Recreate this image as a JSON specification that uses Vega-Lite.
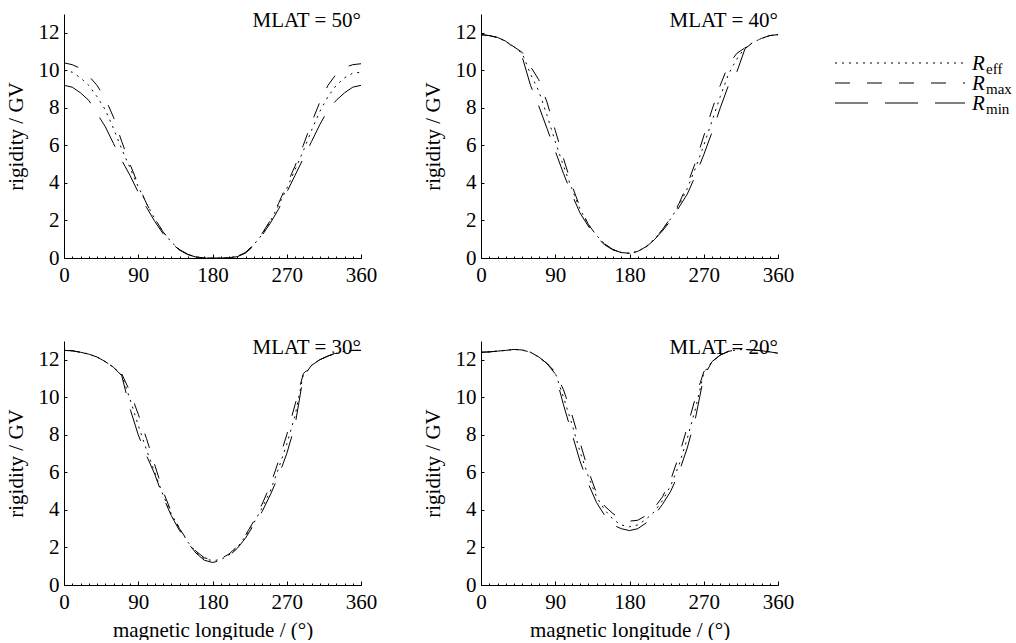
{
  "$schema": "https://vega.github.io/schema/vega-lite/v6.json",
  "padding": {"left": 5, "top": 10, "right": 0, "bottom": 0},
  "background": "white",
  "config": {
    "font": "Liberation Serif",
    "view": {"stroke": null},
    "axis": {
      "grid": false,
      "domainColor": "black",
      "domainWidth": 1,
      "tickColor": "black",
      "tickWidth": 1,
      "labelColor": "black",
      "titleColor": "black",
      "labelFont": "Liberation Serif",
      "titleFont": "Liberation Serif",
      "labelFontSize": 21,
      "titleFontSize": 21,
      "titleFontWeight": "normal",
      "labelOverlap": false,
      "labelFlush": false,
      "labelBound": false
    },
    "text": {"font": "Liberation Serif", "color": "black"}
  },
  "datasets": {
    "rig": [
      {"mlat":50,"lon":0,"eff":10.0,"max":10.4,"min":9.2},
      {"mlat":50,"lon":10,"eff":9.9,"max":10.3,"min":9.1},
      {"mlat":50,"lon":20,"eff":9.6,"max":10.1,"min":8.8},
      {"mlat":50,"lon":30,"eff":9.2,"max":9.7,"min":8.4},
      {"mlat":50,"lon":40,"eff":8.6,"max":9.2,"min":7.7},
      {"mlat":50,"lon":50,"eff":7.9,"max":8.5,"min":7.0},
      {"mlat":50,"lon":60,"eff":6.9,"max":7.5,"min":6.1},
      {"mlat":50,"lon":70,"eff":5.8,"max":6.2,"min":5.2},
      {"mlat":50,"lon":80,"eff":4.8,"max":5.0,"min":4.4},
      {"mlat":50,"lon":90,"eff":3.8,"max":3.9,"min":3.5},
      {"mlat":50,"lon":100,"eff":2.9,"max":2.9,"min":2.7},
      {"mlat":50,"lon":110,"eff":2.1,"max":2.1,"min":1.95},
      {"mlat":50,"lon":120,"eff":1.4,"max":1.4,"min":1.3},
      {"mlat":50,"lon":130,"eff":0.85,"max":0.85,"min":0.8},
      {"mlat":50,"lon":140,"eff":0.45,"max":0.45,"min":0.42},
      {"mlat":50,"lon":150,"eff":0.2,"max":0.2,"min":0.18},
      {"mlat":50,"lon":160,"eff":0.06,"max":0.06,"min":0.05},
      {"mlat":50,"lon":170,"eff":0.01,"max":0.01,"min":0.01},
      {"mlat":50,"lon":180,"eff":0,"max":0,"min":0},
      {"mlat":50,"lon":190,"eff":0,"max":0,"min":0},
      {"mlat":50,"lon":200,"eff":0.02,"max":0.02,"min":0.02},
      {"mlat":50,"lon":210,"eff":0.08,"max":0.08,"min":0.07},
      {"mlat":50,"lon":220,"eff":0.3,"max":0.3,"min":0.26},
      {"mlat":50,"lon":230,"eff":0.7,"max":0.72,"min":0.65},
      {"mlat":50,"lon":240,"eff":1.25,"max":1.3,"min":1.2},
      {"mlat":50,"lon":250,"eff":1.95,"max":2.0,"min":1.85},
      {"mlat":50,"lon":260,"eff":2.8,"max":2.9,"min":2.6},
      {"mlat":50,"lon":270,"eff":3.7,"max":3.9,"min":3.5},
      {"mlat":50,"lon":280,"eff":4.7,"max":4.9,"min":4.4},
      {"mlat":50,"lon":290,"eff":5.7,"max":6.0,"min":5.3},
      {"mlat":50,"lon":300,"eff":6.8,"max":7.2,"min":6.2},
      {"mlat":50,"lon":310,"eff":7.8,"max":8.3,"min":7.1},
      {"mlat":50,"lon":320,"eff":8.6,"max":9.2,"min":7.9},
      {"mlat":50,"lon":330,"eff":9.2,"max":9.8,"min":8.4},
      {"mlat":50,"lon":340,"eff":9.6,"max":10.15,"min":8.8},
      {"mlat":50,"lon":350,"eff":9.85,"max":10.3,"min":9.1},
      {"mlat":50,"lon":360,"eff":9.9,"max":10.35,"min":9.2},

      {"mlat":40,"lon":0,"eff":11.9,"max":11.9,"min":11.9},
      {"mlat":40,"lon":10,"eff":11.85,"max":11.85,"min":11.85},
      {"mlat":40,"lon":20,"eff":11.75,"max":11.75,"min":11.75},
      {"mlat":40,"lon":30,"eff":11.55,"max":11.55,"min":11.55},
      {"mlat":40,"lon":40,"eff":11.25,"max":11.25,"min":11.2},
      {"mlat":40,"lon":50,"eff":10.9,"max":10.95,"min":10.7},
      {"mlat":40,"lon":60,"eff":9.8,"max":10.2,"min":9.2},
      {"mlat":40,"lon":70,"eff":8.9,"max":9.5,"min":8.1},
      {"mlat":40,"lon":80,"eff":7.6,"max":8.3,"min":6.9},
      {"mlat":40,"lon":90,"eff":6.2,"max":6.8,"min":5.7},
      {"mlat":40,"lon":100,"eff":4.9,"max":5.3,"min":4.5},
      {"mlat":40,"lon":110,"eff":3.7,"max":3.9,"min":3.4},
      {"mlat":40,"lon":120,"eff":2.6,"max":2.7,"min":2.4},
      {"mlat":40,"lon":130,"eff":1.8,"max":1.8,"min":1.7},
      {"mlat":40,"lon":140,"eff":1.2,"max":1.2,"min":1.1},
      {"mlat":40,"lon":150,"eff":0.75,"max":0.75,"min":0.7},
      {"mlat":40,"lon":160,"eff":0.45,"max":0.45,"min":0.43},
      {"mlat":40,"lon":170,"eff":0.3,"max":0.3,"min":0.29},
      {"mlat":40,"lon":180,"eff":0.25,"max":0.25,"min":0.25},
      {"mlat":40,"lon":190,"eff":0.35,"max":0.35,"min":0.34},
      {"mlat":40,"lon":200,"eff":0.6,"max":0.6,"min":0.58},
      {"mlat":40,"lon":210,"eff":1.0,"max":1.0,"min":0.97},
      {"mlat":40,"lon":220,"eff":1.5,"max":1.52,"min":1.45},
      {"mlat":40,"lon":230,"eff":2.1,"max":2.15,"min":2.0},
      {"mlat":40,"lon":240,"eff":2.8,"max":2.9,"min":2.7},
      {"mlat":40,"lon":250,"eff":3.7,"max":3.9,"min":3.4},
      {"mlat":40,"lon":260,"eff":4.8,"max":5.1,"min":4.4},
      {"mlat":40,"lon":270,"eff":6.0,"max":6.5,"min":5.5},
      {"mlat":40,"lon":280,"eff":7.3,"max":7.9,"min":6.7},
      {"mlat":40,"lon":290,"eff":8.6,"max":9.2,"min":8.0},
      {"mlat":40,"lon":300,"eff":9.8,"max":10.3,"min":9.2},
      {"mlat":40,"lon":310,"eff":10.6,"max":10.9,"min":9.9},
      {"mlat":40,"lon":320,"eff":11.2,"max":11.2,"min":11.15},
      {"mlat":40,"lon":330,"eff":11.5,"max":11.5,"min":11.5},
      {"mlat":40,"lon":340,"eff":11.7,"max":11.7,"min":11.7},
      {"mlat":40,"lon":350,"eff":11.85,"max":11.85,"min":11.85},
      {"mlat":40,"lon":360,"eff":11.9,"max":11.9,"min":11.9},

      {"mlat":30,"lon":0,"eff":12.5,"max":12.5,"min":12.5},
      {"mlat":30,"lon":10,"eff":12.48,"max":12.48,"min":12.48},
      {"mlat":30,"lon":20,"eff":12.4,"max":12.4,"min":12.4},
      {"mlat":30,"lon":30,"eff":12.3,"max":12.3,"min":12.3},
      {"mlat":30,"lon":40,"eff":12.15,"max":12.15,"min":12.15},
      {"mlat":30,"lon":50,"eff":11.9,"max":11.9,"min":11.9},
      {"mlat":30,"lon":60,"eff":11.6,"max":11.6,"min":11.6},
      {"mlat":30,"lon":70,"eff":11.2,"max":11.25,"min":11.15},
      {"mlat":30,"lon":80,"eff":9.9,"max":10.3,"min":9.4},
      {"mlat":30,"lon":90,"eff":8.5,"max":9.1,"min":8.0},
      {"mlat":30,"lon":100,"eff":7.2,"max":7.8,"min":6.9},
      {"mlat":30,"lon":110,"eff":6.0,"max":6.4,"min":5.9},
      {"mlat":30,"lon":120,"eff":4.8,"max":5.0,"min":4.7},
      {"mlat":30,"lon":130,"eff":3.8,"max":3.9,"min":3.7},
      {"mlat":30,"lon":140,"eff":3.0,"max":3.0,"min":2.9},
      {"mlat":30,"lon":150,"eff":2.3,"max":2.35,"min":2.25},
      {"mlat":30,"lon":160,"eff":1.75,"max":1.8,"min":1.7},
      {"mlat":30,"lon":170,"eff":1.4,"max":1.45,"min":1.32},
      {"mlat":30,"lon":180,"eff":1.3,"max":1.35,"min":1.2},
      {"mlat":30,"lon":190,"eff":1.35,"max":1.4,"min":1.3},
      {"mlat":30,"lon":200,"eff":1.6,"max":1.65,"min":1.55},
      {"mlat":30,"lon":210,"eff":2.0,"max":2.05,"min":1.95},
      {"mlat":30,"lon":220,"eff":2.6,"max":2.65,"min":2.5},
      {"mlat":30,"lon":230,"eff":3.3,"max":3.4,"min":3.2},
      {"mlat":30,"lon":240,"eff":4.1,"max":4.3,"min":3.9},
      {"mlat":30,"lon":250,"eff":5.0,"max":5.3,"min":4.8},
      {"mlat":30,"lon":260,"eff":6.2,"max":6.6,"min":5.8},
      {"mlat":30,"lon":270,"eff":7.5,"max":8.0,"min":7.0},
      {"mlat":30,"lon":280,"eff":9.0,"max":9.6,"min":8.5},
      {"mlat":30,"lon":290,"eff":11.2,"max":11.25,"min":11.1},
      {"mlat":30,"lon":300,"eff":11.7,"max":11.7,"min":11.7},
      {"mlat":30,"lon":310,"eff":12.0,"max":12.0,"min":12.0},
      {"mlat":30,"lon":320,"eff":12.2,"max":12.2,"min":12.2},
      {"mlat":30,"lon":330,"eff":12.35,"max":12.35,"min":12.35},
      {"mlat":30,"lon":340,"eff":12.45,"max":12.45,"min":12.45},
      {"mlat":30,"lon":350,"eff":12.5,"max":12.5,"min":12.5},
      {"mlat":30,"lon":360,"eff":12.5,"max":12.5,"min":12.5},

      {"mlat":20,"lon":0,"eff":12.4,"max":12.4,"min":12.4},
      {"mlat":20,"lon":10,"eff":12.42,"max":12.42,"min":12.42},
      {"mlat":20,"lon":20,"eff":12.46,"max":12.46,"min":12.46},
      {"mlat":20,"lon":30,"eff":12.5,"max":12.5,"min":12.5},
      {"mlat":20,"lon":40,"eff":12.55,"max":12.55,"min":12.55},
      {"mlat":20,"lon":50,"eff":12.52,"max":12.52,"min":12.52},
      {"mlat":20,"lon":60,"eff":12.4,"max":12.4,"min":12.4},
      {"mlat":20,"lon":70,"eff":12.15,"max":12.15,"min":12.15},
      {"mlat":20,"lon":80,"eff":11.8,"max":11.8,"min":11.8},
      {"mlat":20,"lon":90,"eff":11.3,"max":11.35,"min":11.25},
      {"mlat":20,"lon":100,"eff":10.0,"max":10.4,"min":9.6},
      {"mlat":20,"lon":110,"eff":8.6,"max":9.1,"min":8.1},
      {"mlat":20,"lon":120,"eff":7.1,"max":7.6,"min":6.6},
      {"mlat":20,"lon":130,"eff":5.8,"max":6.1,"min":5.4},
      {"mlat":20,"lon":140,"eff":4.7,"max":4.9,"min":4.4},
      {"mlat":20,"lon":150,"eff":4.0,"max":4.2,"min":3.7},
      {"mlat":20,"lon":160,"eff":3.5,"max":3.8,"min":3.2},
      {"mlat":20,"lon":170,"eff":3.2,"max":3.5,"min":3.0},
      {"mlat":20,"lon":180,"eff":3.1,"max":3.4,"min":2.9},
      {"mlat":20,"lon":190,"eff":3.2,"max":3.45,"min":3.0},
      {"mlat":20,"lon":200,"eff":3.5,"max":3.7,"min":3.3},
      {"mlat":20,"lon":210,"eff":3.9,"max":4.1,"min":3.7},
      {"mlat":20,"lon":220,"eff":4.5,"max":4.7,"min":4.3},
      {"mlat":20,"lon":230,"eff":5.3,"max":5.6,"min":5.0},
      {"mlat":20,"lon":240,"eff":6.4,"max":6.9,"min":6.0},
      {"mlat":20,"lon":250,"eff":7.8,"max":8.4,"min":7.3},
      {"mlat":20,"lon":260,"eff":9.4,"max":10.0,"min":8.9},
      {"mlat":20,"lon":270,"eff":11.3,"max":11.35,"min":11.1},
      {"mlat":20,"lon":280,"eff":11.9,"max":11.9,"min":11.9},
      {"mlat":20,"lon":290,"eff":12.25,"max":12.25,"min":12.25},
      {"mlat":20,"lon":300,"eff":12.45,"max":12.45,"min":12.45},
      {"mlat":20,"lon":310,"eff":12.53,"max":12.53,"min":12.53},
      {"mlat":20,"lon":320,"eff":12.55,"max":12.55,"min":12.55},
      {"mlat":20,"lon":330,"eff":12.52,"max":12.52,"min":12.52},
      {"mlat":20,"lon":340,"eff":12.48,"max":12.48,"min":12.48},
      {"mlat":20,"lon":350,"eff":12.42,"max":12.42,"min":12.42},
      {"mlat":20,"lon":360,"eff":12.35,"max":12.35,"min":12.35}
    ]
  },
  "hconcat": [
    {
      "vconcat": [
        {
          "hconcat": [
            {
              "width": 297, "height": 244,
              "resolve": {"axis": {"x": "independent"}},
              "layer": [
                {
                  "data": {"name": "rig"},
                  "transform": [{"filter": "datum.mlat == 50"}, {"fold": ["eff", "max", "min"], "as": ["series", "R"]}],
                  "mark": {"type": "line", "color": "black", "strokeWidth": 1},
                  "encoding": {
                    "x": {"field": "lon", "type": "quantitative", "scale": {"domain": [0, 360], "nice": false, "zero": false},
                      "axis": {"values": [0,10,20,30,40,50,60,70,80,90,100,110,120,130,140,150,160,170,180,190,200,210,220,230,240,250,260,270,280,290,300,310,320,330,340,350,360],
                        "labelExpr": "datum.value % 90 == 0 ? datum.label : ''",
                        "tickSize": -2, "labelPadding": 8, "title": null, "orient": "bottom"}},
                    "y": {"field": "R", "type": "quantitative", "scale": {"domain": [0, 13], "nice": false},
                      "axis": {"values": [0,1,2,3,4,5,6,7,8,9,10,11,12], "labelExpr": "datum.value % 2 == 0 ? datum.label : ''",
                        "tickSize": -3, "labelPadding": 8, "title": "rigidity / GV", "titlePadding": 12}},
                    "strokeDash": {"field": "series", "type": "nominal", "scale": {"domain": ["eff", "max", "min"], "range": [[2, 5], [15, 17], [33, 17]]}, "legend": null}
                  }
                },
                {
                  "data": {"values": [{"label": "MLAT = 50°"}]},
                  "mark": {"type": "text", "align": "right", "baseline": "alphabetic", "fontSize": 21, "dy": 13},
                  "encoding": {
                    "x": {"datum": 360, "type": "quantitative", "axis": {"values": [0, 90, 180, 270, 360], "tickSize": -4, "labels": false, "domain": false, "title": null, "orient": "bottom"}},
                    "y": {"datum": 13},
                    "text": {"field": "label"}
                  }
                }
              ]
            },
            {
              "width": 297, "height": 244,
              "resolve": {"axis": {"x": "independent"}},
              "layer": [
                {
                  "data": {"name": "rig"},
                  "transform": [{"filter": "datum.mlat == 40"}, {"fold": ["eff", "max", "min"], "as": ["series", "R"]}],
                  "mark": {"type": "line", "color": "black", "strokeWidth": 1},
                  "encoding": {
                    "x": {"field": "lon", "type": "quantitative", "scale": {"domain": [0, 360], "nice": false, "zero": false},
                      "axis": {"values": [0,10,20,30,40,50,60,70,80,90,100,110,120,130,140,150,160,170,180,190,200,210,220,230,240,250,260,270,280,290,300,310,320,330,340,350,360],
                        "labelExpr": "datum.value % 90 == 0 ? datum.label : ''",
                        "tickSize": -2, "labelPadding": 8, "title": null, "orient": "bottom"}},
                    "y": {"field": "R", "type": "quantitative", "scale": {"domain": [0, 13], "nice": false},
                      "axis": {"values": [0,1,2,3,4,5,6,7,8,9,10,11,12], "labelExpr": "datum.value % 2 == 0 ? datum.label : ''",
                        "tickSize": -3, "labelPadding": 8, "title": "rigidity / GV", "titlePadding": 12}},
                    "strokeDash": {"field": "series", "type": "nominal", "scale": {"domain": ["eff", "max", "min"], "range": [[2, 5], [15, 17], [33, 17]]}, "legend": null}
                  }
                },
                {
                  "data": {"values": [{"label": "MLAT = 40°"}]},
                  "mark": {"type": "text", "align": "right", "baseline": "alphabetic", "fontSize": 21, "dy": 13},
                  "encoding": {
                    "x": {"datum": 360, "type": "quantitative", "axis": {"values": [0, 90, 180, 270, 360], "tickSize": -4, "labels": false, "domain": false, "title": null, "orient": "bottom"}},
                    "y": {"datum": 13},
                    "text": {"field": "label"}
                  }
                }
              ]
            }
          ],
          "spacing": 45
        },
        {
          "hconcat": [
            {
              "width": 297, "height": 244,
              "resolve": {"axis": {"x": "independent"}},
              "layer": [
                {
                  "data": {"name": "rig"},
                  "transform": [{"filter": "datum.mlat == 30"}, {"fold": ["eff", "max", "min"], "as": ["series", "R"]}],
                  "mark": {"type": "line", "color": "black", "strokeWidth": 1},
                  "encoding": {
                    "x": {"field": "lon", "type": "quantitative", "scale": {"domain": [0, 360], "nice": false, "zero": false},
                      "axis": {"values": [0,10,20,30,40,50,60,70,80,90,100,110,120,130,140,150,160,170,180,190,200,210,220,230,240,250,260,270,280,290,300,310,320,330,340,350,360],
                        "labelExpr": "datum.value % 90 == 0 ? datum.label : ''",
                        "tickSize": -2, "labelPadding": 8, "title": "magnetic longitude / (°)", "titlePadding": 7, "orient": "bottom"}},
                    "y": {"field": "R", "type": "quantitative", "scale": {"domain": [0, 13], "nice": false},
                      "axis": {"values": [0,1,2,3,4,5,6,7,8,9,10,11,12], "labelExpr": "datum.value % 2 == 0 ? datum.label : ''",
                        "tickSize": -3, "labelPadding": 8, "title": "rigidity / GV", "titlePadding": 12}},
                    "strokeDash": {"field": "series", "type": "nominal", "scale": {"domain": ["eff", "max", "min"], "range": [[2, 5], [15, 17], [33, 17]]}, "legend": null}
                  }
                },
                {
                  "data": {"values": [{"label": "MLAT = 30°"}]},
                  "mark": {"type": "text", "align": "right", "baseline": "alphabetic", "fontSize": 21, "dy": 13},
                  "encoding": {
                    "x": {"datum": 360, "type": "quantitative", "axis": {"values": [0, 90, 180, 270, 360], "tickSize": -4, "labels": false, "domain": false, "title": null, "orient": "bottom"}},
                    "y": {"datum": 13},
                    "text": {"field": "label"}
                  }
                }
              ]
            },
            {
              "width": 297, "height": 244,
              "resolve": {"axis": {"x": "independent"}},
              "layer": [
                {
                  "data": {"name": "rig"},
                  "transform": [{"filter": "datum.mlat == 20"}, {"fold": ["eff", "max", "min"], "as": ["series", "R"]}],
                  "mark": {"type": "line", "color": "black", "strokeWidth": 1},
                  "encoding": {
                    "x": {"field": "lon", "type": "quantitative", "scale": {"domain": [0, 360], "nice": false, "zero": false},
                      "axis": {"values": [0,10,20,30,40,50,60,70,80,90,100,110,120,130,140,150,160,170,180,190,200,210,220,230,240,250,260,270,280,290,300,310,320,330,340,350,360],
                        "labelExpr": "datum.value % 90 == 0 ? datum.label : ''",
                        "tickSize": -2, "labelPadding": 8, "title": "magnetic longitude / (°)", "titlePadding": 7, "orient": "bottom"}},
                    "y": {"field": "R", "type": "quantitative", "scale": {"domain": [0, 13], "nice": false},
                      "axis": {"values": [0,1,2,3,4,5,6,7,8,9,10,11,12], "labelExpr": "datum.value % 2 == 0 ? datum.label : ''",
                        "tickSize": -3, "labelPadding": 8, "title": "rigidity / GV", "titlePadding": 12}},
                    "strokeDash": {"field": "series", "type": "nominal", "scale": {"domain": ["eff", "max", "min"], "range": [[2, 5], [15, 17], [33, 17]]}, "legend": null}
                  }
                },
                {
                  "data": {"values": [{"label": "MLAT = 20°"}]},
                  "mark": {"type": "text", "align": "right", "baseline": "alphabetic", "fontSize": 21, "dy": 13},
                  "encoding": {
                    "x": {"datum": 360, "type": "quantitative", "axis": {"values": [0, 90, 180, 270, 360], "tickSize": -4, "labels": false, "domain": false, "title": null, "orient": "bottom"}},
                    "y": {"datum": 13},
                    "text": {"field": "label"}
                  }
                }
              ]
            }
          ],
          "spacing": 45
        }
      ],
      "spacing": 52
    },
    {
      "width": 130, "height": {"step": 20},
      "data": {"values": [
        {"series": "eff", "sym": "R", "sub": "eff"},
        {"series": "max", "sym": "R", "sub": "max"},
        {"series": "min", "sym": "R", "sub": "min"}
      ]},
      "encoding": {
        "y": {"field": "series", "type": "nominal", "scale": {"type": "point", "domain": ["eff", "max", "min"], "padding": 1}, "axis": null}
      },
      "layer": [
        {
          "mark": {"type": "rule", "color": "black", "strokeWidth": 1, "yOffset": 29},
          "encoding": {
            "x": {"datum": 0, "type": "quantitative", "scale": {"domain": [0, 1]}, "axis": null},
            "x2": {"datum": 1},
            "strokeDash": {"field": "series", "type": "nominal", "scale": {"domain": ["eff", "max", "min"], "range": [[2, 5], [15, 17], [33, 17]]}, "legend": null}
          }
        },
        {
          "mark": {"type": "text", "align": "left", "baseline": "alphabetic", "fontSize": 21, "fontStyle": "italic", "dx": 7, "yOffset": 36},
          "encoding": {"x": {"datum": 1, "type": "quantitative"}, "text": {"field": "sym"}}
        },
        {
          "mark": {"type": "text", "align": "left", "baseline": "alphabetic", "fontSize": 15, "dx": 21, "yOffset": 40},
          "encoding": {"x": {"datum": 1, "type": "quantitative"}, "text": {"field": "sub"}}
        }
      ]
    }
  ],
  "spacing": 40
}
